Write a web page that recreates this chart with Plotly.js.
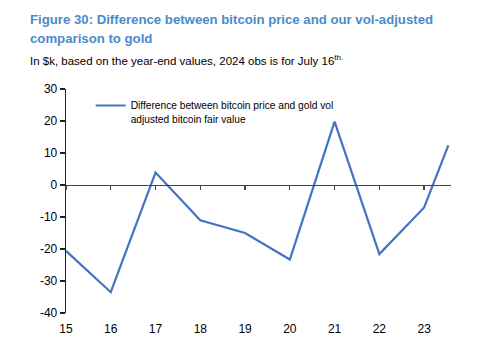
<!DOCTYPE html>
<html>
<head>
<meta charset="utf-8">
<script src="https://cdn.plot.ly/plotly-3.0.1.min.js"></script>
<style>html,body{margin:0;padding:0;background:#fff;}#chart{width:485px;height:360px;}</style>
</head>
<body>
<div id="chart"></div>
<script>
// Data
const years = [15, 16, 17, 18, 19, 20, 21, 22, 23, 23.54];
const diffValues = [-20.6, -33.5, 3.9, -11.0, -15.0, -23.3, 19.8, -21.6, -7.0, 12.4];
const xTickVals = [15, 16, 17, 18, 19, 20, 21, 22, 23];
const xTickText = ["15", "16", "17", "18", "19", "20", "21", "22", "23"];
const yTickVals = [-40, -30, -20, -10, 0, 10, 20, 30];
const yTickText = ["-40", "-30", "-20", "-10", "0", "10", "20", "30"];
const seriesName = "Difference between bitcoin price and gold vol<br>adjusted bitcoin fair value";
const titleLine1 = "Figure 30: Difference between bitcoin price and our vol-adjusted";
const titleLine2 = "comparison to gold";
const subtitle = "In $k, based on the year-end values, 2024 obs is for July 16<sup>th.</sup>";

const font = "Liberation Sans, Arial, sans-serif";

const trace = {
  x: years, y: diffValues, type: "scatter", mode: "lines",
  name: seriesName,
  line: {color: "#4472c4", width: 2.2},
  hoverinfo: "skip"
};
const helper = {x: [years[0]], y: [0], xaxis: "x2", yaxis: "y", mode: "markers",
  marker: {opacity: 0}, showlegend: false, hoverinfo: "skip"};

function yPx(px) { return 1 + (89 - px) / 224; }
const xLeft = (28 - 66) / 385;

const layout = {
  width: 485, height: 360,
  paper_bgcolor: "#fff", plot_bgcolor: "#fff",
  margin: {l: 66, r: 34, t: 89, b: 47},
  font: {family: font, size: 12, color: "#000"},
  annotations: [
    {text: "<b>" + titleLine1 + "</b>", xref: "paper", yref: "paper", x: xLeft, y: yPx(19),
     xanchor: "left", yanchor: "middle", showarrow: false,
     font: {family: font, size: 13.2, color: "#4a8bc9"}},
    {text: "<b>" + titleLine2 + "</b>", xref: "paper", yref: "paper", x: xLeft, y: yPx(38),
     xanchor: "left", yanchor: "middle", showarrow: false,
     font: {family: font, size: 13.2, color: "#4a8bc9"}},
    {text: subtitle, xref: "paper", yref: "paper", x: xLeft, y: yPx(60),
     xanchor: "left", yanchor: "middle", showarrow: false,
     font: {family: font, size: 11.5, color: "#000"}}
  ],
  showlegend: true,
  legend: {
    x: 0.064, y: 0.985, xanchor: "left", yanchor: "top", valign: "top",
    bgcolor: "rgba(0,0,0,0)", borderwidth: 0, tracegroupgap: 0,
    font: {family: font, size: 10.2, color: "#000"}
  },
  xaxis: {
    range: [15, 23.6], tickvals: xTickVals, ticktext: xTickText,
    showgrid: false, zeroline: false, showline: false,
    ticks: "outside", ticklen: 5, tickcolor: "rgba(0,0,0,0)",
    tickfont: {family: font, size: 12, color: "#000"}
  },
  xaxis2: {
    range: [15, 23.6], overlaying: "x", matches: "x", anchor: "free", position: 40 / 70,
    tickvals: xTickVals, showticklabels: false, showgrid: false, zeroline: false,
    showline: true, linecolor: "#444", linewidth: 1.3,
    ticks: "outside", ticklen: 4, tickcolor: "#444", tickwidth: 1.3
  },
  yaxis: {
    range: [-40, 30], tickvals: yTickVals, ticktext: yTickText,
    showgrid: false, zeroline: false, showline: true, linecolor: "#222", linewidth: 1.3,
    ticks: "outside", ticklen: 5, tickcolor: "#222", tickwidth: 1.3,
    tickfont: {family: font, size: 12, color: "#000"}
  }
};

Plotly.newPlot("chart", [trace, helper], layout, {displayModeBar: false, staticPlot: true});
</script>
</body>
</html>
